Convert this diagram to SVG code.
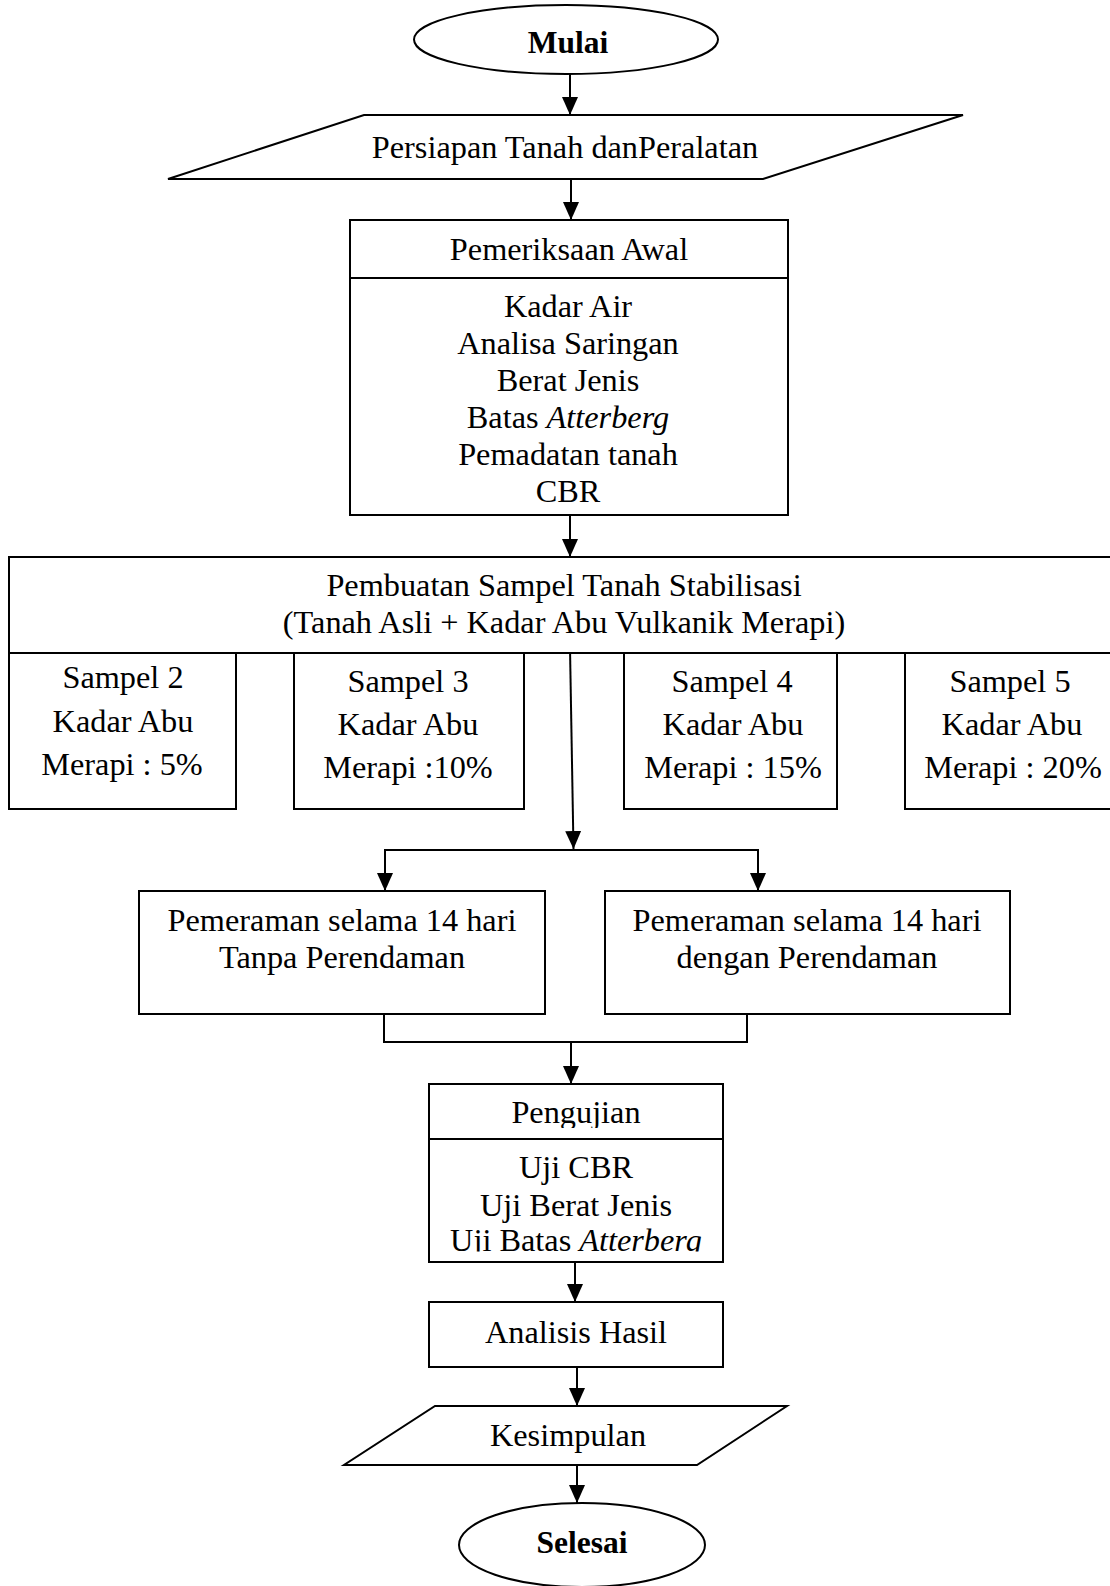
<svg xmlns="http://www.w3.org/2000/svg" width="1110" height="1586" viewBox="0 0 1110 1586">
<style>
.s{fill:none;stroke:#000;stroke-width:2}
.n{fill:#fff;stroke:#000;stroke-width:2}
.t{font-family:"Liberation Serif","Times New Roman",serif;font-size:32.3px;fill:#000;text-anchor:middle}
.b{font-weight:bold;font-size:31.5px}
.c{fill:none;stroke:#000;stroke-width:2}
</style>
<defs>
<marker id="ah" markerUnits="userSpaceOnUse" markerWidth="18" markerHeight="16" refX="18" refY="8" orient="auto">
<path d="M0,0 L18,8 L0,16 z" fill="#000"/>
</marker>
<clipPath id="clipP"><rect x="430" y="1085" width="292" height="43"/></clipPath>
<clipPath id="clipU"><rect x="430" y="1140" width="292" height="111.5"/></clipPath>
</defs>
<rect width="1110" height="1586" fill="#fff"/>

<g id="connectors">
<line class="c" x1="570" y1="74" x2="570" y2="115" marker-end="url(#ah)"/>
<line class="c" x1="571" y1="179" x2="571" y2="220" marker-end="url(#ah)"/>
<line class="c" x1="570" y1="515" x2="570" y2="557" marker-end="url(#ah)"/>
<line class="c" x1="570" y1="648" x2="573.5" y2="849" marker-end="url(#ah)"/>
<polyline class="c" points="385,870 385,850 758,850 758,870"/>
<line class="c" x1="385" y1="860" x2="385" y2="891" marker-end="url(#ah)"/>
<line class="c" x1="758" y1="860" x2="758" y2="891" marker-end="url(#ah)"/>
<polyline class="c" points="384,1014 384,1042 747,1042 747,1014"/>
<line class="c" x1="571" y1="1042" x2="571" y2="1084" marker-end="url(#ah)"/>
<line class="c" x1="575" y1="1262" x2="575" y2="1302" marker-end="url(#ah)"/>
<line class="c" x1="577" y1="1367" x2="577" y2="1406" marker-end="url(#ah)"/>
<line class="c" x1="577" y1="1465" x2="577" y2="1503" marker-end="url(#ah)"/>
</g>

<g id="mulai">
<ellipse class="n" cx="566" cy="39.5" rx="152" ry="34.5"/>
<text class="t b" x="568" y="53">Mulai</text>
</g>

<g id="persiapan">
<polygon class="n" points="364,115 963,115 763,179 168,179"/>
<text class="t" x="565" y="158">Persiapan Tanah danPeralatan</text>
</g>

<g id="pemeriksaan">
<rect class="n" x="350" y="220" width="438" height="295"/>
<line class="s" x1="350" y1="278" x2="788" y2="278"/>
<text class="t" x="569" y="260">Pemeriksaan Awal</text>
<text class="t" x="568" y="317">Kadar Air</text>
<text class="t" x="568" y="354">Analisa Saringan</text>
<text class="t" x="568" y="391">Berat Jenis</text>
<text class="t" x="568" y="428">Batas <tspan font-style="italic">Atterberg</tspan></text>
<text class="t" x="568" y="465">Pemadatan tanah</text>
<text class="t" x="568" y="502">CBR</text>
</g>

<g id="pembuatan">
<rect class="n" x="9" y="557" width="1110" height="96"/>
<text class="t" x="564" y="596">Pembuatan Sampel Tanah Stabilisasi</text>
<text class="t" x="564" y="633">(Tanah Asli + Kadar Abu Vulkanik Merapi)</text>
</g>

<g id="sampel2">
<rect class="n" x="9" y="653" width="227" height="156"/>
<text class="t" x="123" y="688">Sampel 2</text>
<text class="t" x="123" y="732">Kadar Abu</text>
<text class="t" x="122" y="775">Merapi : 5%</text>
</g>
<g id="sampel3">
<rect class="n" x="294" y="653" width="230" height="156"/>
<text class="t" x="408" y="692">Sampel 3</text>
<text class="t" x="408" y="735">Kadar Abu</text>
<text class="t" x="408" y="778">Merapi :10%</text>
</g>
<g id="sampel4">
<rect class="n" x="624" y="653" width="213" height="156"/>
<text class="t" x="732" y="692">Sampel 4</text>
<text class="t" x="733" y="735">Kadar Abu</text>
<text class="t" x="733" y="778">Merapi : 15%</text>
</g>
<g id="sampel5">
<rect class="n" x="905" y="653" width="220" height="156"/>
<text class="t" x="1010" y="692">Sampel 5</text>
<text class="t" x="1012" y="735">Kadar Abu</text>
<text class="t" x="1013" y="778">Merapi : 20%</text>
</g>

<g id="pemeraman1">
<rect class="n" x="139" y="891" width="406" height="123"/>
<text class="t" x="342" y="931">Pemeraman selama 14 hari</text>
<text class="t" x="342" y="968">Tanpa Perendaman</text>
</g>
<g id="pemeraman2">
<rect class="n" x="605" y="891" width="405" height="123"/>
<text class="t" x="807" y="931">Pemeraman selama 14 hari</text>
<text class="t" x="807" y="968">dengan Perendaman</text>
</g>

<g id="pengujian">
<rect class="n" x="429" y="1084" width="294" height="178"/>
<line class="s" x1="429" y1="1139" x2="723" y2="1139"/>
<text class="t" x="576" y="1123" clip-path="url(#clipP)">Pengujian</text>
<text class="t" x="576" y="1178">Uji CBR</text>
<text class="t" x="576" y="1216">Uji Berat Jenis</text>
<text class="t" x="576" y="1251" clip-path="url(#clipU)">Uji Batas <tspan font-style="italic">Atterberg</tspan></text>
</g>

<g id="analisis">
<rect class="n" x="429" y="1302" width="294" height="65"/>
<text class="t" x="576" y="1343">Analisis Hasil</text>
</g>

<g id="kesimpulan">
<polygon class="n" points="435,1406 787,1406 697,1465 344,1465"/>
<text class="t" x="568" y="1446">Kesimpulan</text>
</g>

<g id="selesai">
<ellipse class="n" cx="582" cy="1545" rx="123" ry="42"/>
<text class="t b" x="582" y="1553">Selesai</text>
</g>
</svg>
